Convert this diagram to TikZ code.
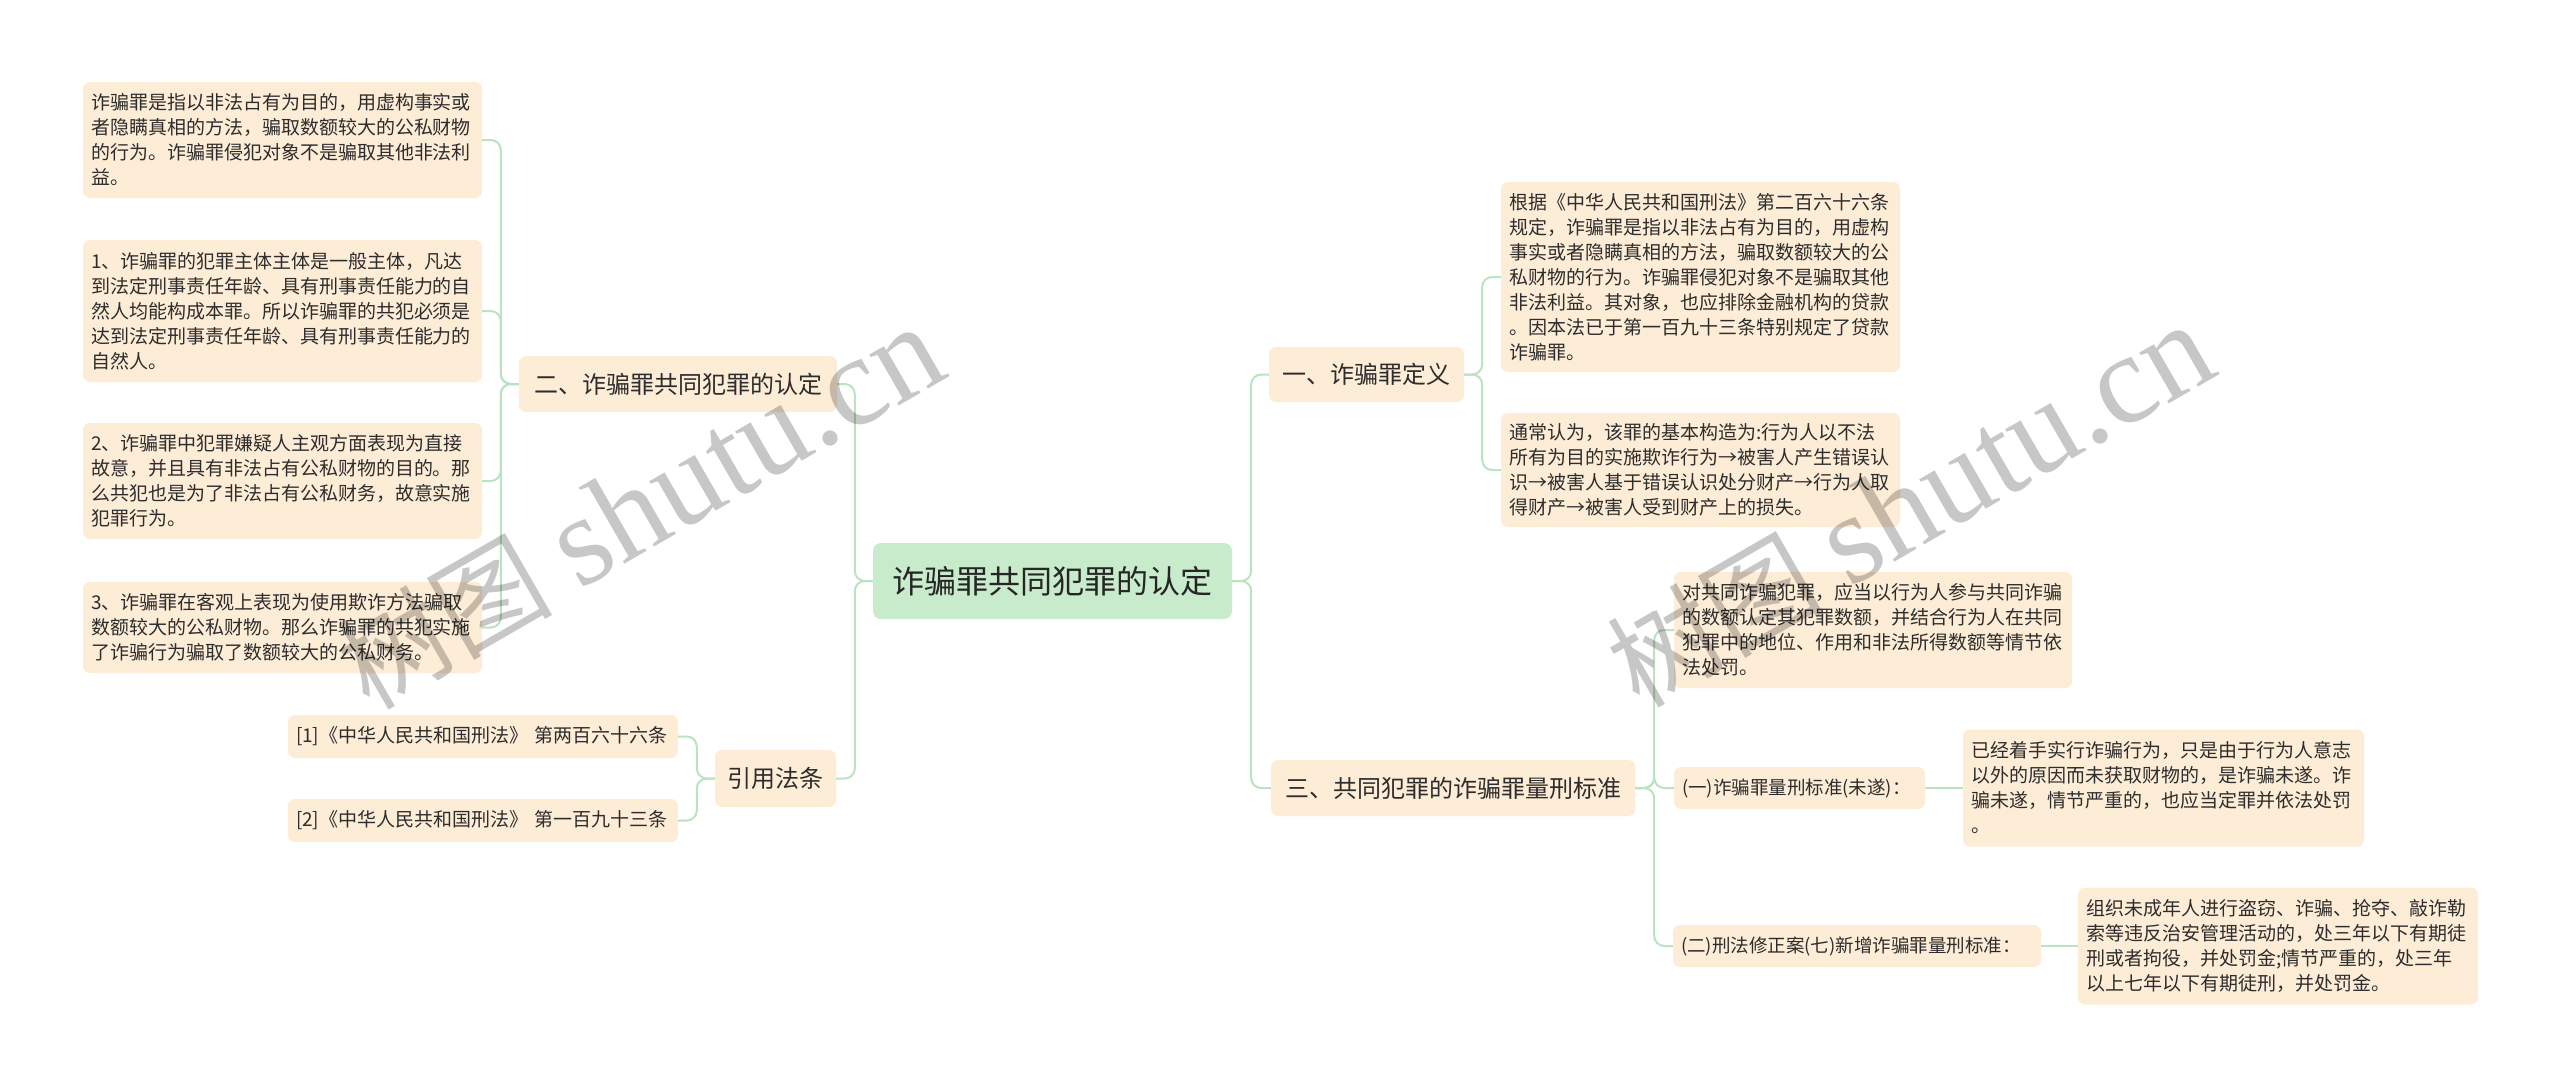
\documentclass[tikz,border=0pt]{standalone}
\usepackage{fontspec}
\newfontfamily\cjk{Noto Sans CJK SC}
\newfontfamily\wmserif{Liberation Serif}
\definecolor{peach}{RGB}{253,236,214}
\definecolor{rootgreen}{RGB}{200,235,203}
\definecolor{linegreen}{RGB}{186,228,192}
\definecolor{txt}{RGB}{45,45,45}
\tikzset{
  conn/.style={draw=linegreen, line width=2pt, rounded corners=10pt},
  leaf/.style={fill=peach, rounded corners=7pt, text=txt, font=\cjk\fontsize{19}{25}\selectfont, align=left, inner xsep=8pt, inner ysep=0pt},
  cite/.style={fill=peach, rounded corners=7pt, text=txt, font=\cjk\fontsize{19}{24}\selectfont, align=left, inner xsep=8pt, inner ysep=0pt},
  branch/.style={fill=peach, rounded corners=7pt, text=txt, font=\cjk\fontsize{24}{30}\selectfont, inner sep=0pt},
  rootbox/.style={fill=rootgreen, rounded corners=8pt, text=black!85, font=\cjk\fontsize{32}{38}\selectfont, inner sep=0pt},
  wm/.style={text=black, text opacity=0.22, inner sep=0pt}
}
\newcommand{\wmtext}{{\cjk\fontsize{108}{108}\selectfont 树图}\hspace{26pt}{\wmserif\fontsize{128}{128}\selectfont shutu.cn}}
\begin{document}
\begin{tikzpicture}[x=1pt,y=-1pt]
\useasboundingbox (0,0) rectangle (2560,1087);
\fill[white] (0,0) rectangle (2560,1087);

% root
\node[rootbox, minimum width=359, minimum height=76] (root) at (1052.5,581) {诈骗罪共同犯罪的认定};

% left branches
\node[branch, minimum width=318, minimum height=56] (er) at (678,384) {二、诈骗罪共同犯罪的认定};
\node[branch, minimum width=121, minimum height=57] (yy) at (775.5,778.5) {引用法条};

\node[leaf, text width=383, minimum height=116] (a1) at (282.5,140) {诈骗罪是指以非法占有为目的，用虚构事实或\\
者隐瞒真相的方法，骗取数额较大的公私财物\\
的行为。诈骗罪侵犯对象不是骗取其他非法利\\
益。};
\node[leaf, text width=383, minimum height=142] (a2) at (282.5,311) {1、诈骗罪的犯罪主体主体是一般主体，凡达\\
到法定刑事责任年龄、具有刑事责任能力的自\\
然人均能构成本罪。所以诈骗罪的共犯必须是\\
达到法定刑事责任年龄、具有刑事责任能力的\\
自然人。};
\node[leaf, text width=383, minimum height=116] (a3) at (282.5,481) {2、诈骗罪中犯罪嫌疑人主观方面表现为直接\\
故意，并且具有非法占有公私财物的目的。那\\
么共犯也是为了非法占有公私财务，故意实施\\
犯罪行为。};
\node[leaf, text width=383, minimum height=91] (a4) at (282.5,627.5) {3、诈骗罪在客观上表现为使用欺诈方法骗取\\
数额较大的公私财物。那么诈骗罪的共犯实施\\
了诈骗行为骗取了数额较大的公私财务。};

\node[cite, text width=374, minimum height=43] (ct1) at (483,736.5) {[1]《中华人民共和国刑法》~第两百六十六条};
\node[cite, text width=374, minimum height=43] (ct2) at (483,820.5) {[2]《中华人民共和国刑法》~第一百九十三条};

% right branches
\node[branch, minimum width=195, minimum height=55] (one) at (1366.5,374.5) {一、诈骗罪定义};
\node[branch, minimum width=364, minimum height=56] (three) at (1453,788) {三、共同犯罪的诈骗罪量刑标准};

\node[leaf, text width=383, minimum height=190] (b1) at (1700.5,277) {根据《中华人民共和国刑法》第二百六十六条\\
规定，诈骗罪是指以非法占有为目的，用虚构\\
事实或者隐瞒真相的方法，骗取数额较大的公\\
私财物的行为。诈骗罪侵犯对象不是骗取其他\\
非法利益。其对象，也应排除金融机构的贷款\\
。因本法已于第一百九十三条特别规定了贷款\\
诈骗罪。};
\node[leaf, text width=383, minimum height=114] (b2) at (1700.5,470) {通常认为，该罪的基本构造为:行为人以不法\\
所有为目的实施欺诈行为→被害人产生错误认\\
识→被害人基于错误认识处分财产→行为人取\\
得财产→被害人受到财产上的损失。};

\node[leaf, text width=382, minimum height=116] (c1) at (1873,630) {对共同诈骗犯罪，应当以行为人参与共同诈骗\\
的数额认定其犯罪数额，并结合行为人在共同\\
犯罪中的地位、作用和非法所得数额等情节依\\
法处罚。};
\node[cite, font=\cjk\fontsize{18.5}{24}\selectfont, text width=235, minimum height=42] (c2) at (1799.5,788) {(一)诈骗罪量刑标准(未遂)：};
\node[leaf, text width=385, minimum height=117] (c3) at (2163.5,788) {已经着手实行诈骗行为，只是由于行为人意志\\
以外的原因而未获取财物的，是诈骗未遂。诈\\
骗未遂，情节严重的，也应当定罪并依法处罚\\
。};
\node[cite, font=\cjk\fontsize{18.5}{24}\selectfont, text width=352, minimum height=42] (c4) at (1857,946) {(二)刑法修正案(七)新增诈骗罪量刑标准：};
\node[leaf, text width=384, minimum height=117] (c5) at (2278,946) {组织未成年人进行盗窃、诈骗、抢夺、敲诈勒\\
索等违反治安管理活动的，处三年以下有期徒\\
刑或者拘役，并处罚金;情节严重的，处三年\\
以上七年以下有期徒刑，并处罚金。};

% connectors
\draw[conn] (root.west) -- ++(-18,0) |- (er.east);
\draw[conn] (root.west) -- ++(-18,0) |- (yy.east);
\foreach \c in {a1,a2,a3,a4} \draw[conn] (er.west) -- ++(-18,0) |- (\c.east);
\foreach \c in {ct1,ct2} \draw[conn] (yy.west) -- ++(-18,0) |- (\c.east);
\draw[conn] (root.east) -- ++(19,0) |- (one.west);
\draw[conn] (root.east) -- ++(19,0) |- (three.west);
\foreach \c in {b1,b2} \draw[conn] (one.east) -- ++(18,0) |- (\c.west);
\foreach \c in {c1,c2,c4} \draw[conn] (three.east) -- ++(19,0) |- (\c.west);
\draw[conn] (c2.east) -- (c3.west);
\draw[conn] (c4.east) -- (c5.west);

% watermarks
\node[wm, rotate=30] (wm1) at (640,508) {\wmtext};
\node[wm, rotate=30] (wm2) at (1910,506) {\wmtext};
\end{tikzpicture}
\end{document}
